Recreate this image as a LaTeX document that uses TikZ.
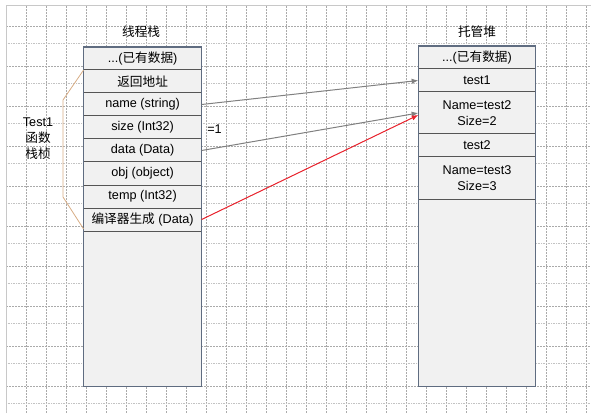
\documentclass[tikz,border=0pt]{standalone}
\usepackage{fontspec}
\setmainfont{Liberation Sans}
\newfontfamily\cjk{Noto Sans CJK SC}
\newcommand{\zh}[1]{{\cjk #1}}
\usetikzlibrary{
    positioning,
    arrows.meta
}
\definecolor{gridgray}{RGB}{170,170,170}
\definecolor{gridlight}{RGB}{195,195,195}
\definecolor{framegray}{RGB}{200,200,200}
\definecolor{cellfill}{RGB}{241,241,241}
\definecolor{colline}{RGB}{95,108,128}
\definecolor{rowline}{RGB}{85,85,85}
\definecolor{bracetan}{RGB}{215,172,132}
\definecolor{ptrgray}{RGB}{128,128,128}
\definecolor{ptrred}{RGB}{232,36,46}
\tikzset{
  txt/.style = {
      font=\fontsize{9.5}{12}\selectfont,
      inner sep=0pt
  },
  colbox/.style = {
      draw=colline,
      line width=0.9pt,
      fill=cellfill,
      inner sep=0pt,
      outer sep=0pt
  },
  cell/.style = {
      txt,
      draw=rowline,
      line width=0.75pt,
      fill=cellfill,
      align=center,
      outer sep=0pt
  },
  stackcell/.style = {
      cell,
      minimum width=88.5pt,
      minimum height=17.25pt
  },
  heapcell/.style = {
      cell,
      minimum width=88pt,
      minimum height=17.25pt
  },
  tallcell/.style = {
      heapcell,
      minimum height=31.5pt
  },
  gridv/.style = {
      draw=gridgray,
      line width=0.4pt,
      dash pattern=on 1.5pt off 0.75pt
  },
  gridh/.style = {
      draw=gridgray,
      line width=0.4pt,
      dash pattern=on 1.5pt off 0.75pt
  },
  gridd/.style = {
      draw=gridlight,
      line width=0.4pt,
      dash pattern=on 0.5pt off 0.75pt
  },
  brace/.style = {
      draw=bracetan,
      line width=0.6pt
  },
  ptr/.style = {
      draw=ptrgray,
      line width=0.75pt,
      -{Latex[length=5pt,width=4pt]}
  },
  redptr/.style = {
      ptr,
      draw=ptrred,
      fill=ptrred
  }
}

\begin{document}
\begin{tikzpicture}[x=0.75pt, y=-0.75pt]
    \useasboundingbox (0,0) rectangle (591,413);
    % Grid
    \foreach \x in {26,46,...,586}
        \draw[gridv] (\x,6) -- (\x,413);
    \foreach \y in {26,66,...,386}
        \draw[gridh] (6,\y) -- (591,\y);
    \foreach \y in {43,83,...,403}
        \draw[gridd] (6,\y) -- (591,\y);
    \draw[framegray, line width=0.75pt] (6,413) -- (6,6) -- (591,6);
    % Titles
    \node[txt] (stacktitle) at (141,32) {\zh{线程栈}};
    \node[txt] (heaptitle) at (477,32) {\zh{托管堆}};
    % Thread stack
    \node[colbox, minimum width=88.5pt, minimum height=254.6pt, anchor=north] (stack) at (142.6,47) {};
    \node[stackcell, anchor=north] (s0) at (stack.north) {...(\zh{已有数据})};
    \node[stackcell, below=0pt of s0] (s1) {\zh{返回地址}};
    \node[stackcell, below=0pt of s1] (s2) {name (string)};
    \node[stackcell, below=0pt of s2] (s3) {size (Int32)};
    \node[stackcell, below=0pt of s3] (s4) {data (Data)};
    \node[stackcell, below=0pt of s4] (s5) {obj (object)};
    \node[stackcell, below=0pt of s5] (s6) {temp (Int32)};
    \node[stackcell, below=0pt of s6] (s7) {\zh{编译器生成} (Data)};
    \draw[colline, line width=0.9pt] (stack.north west) rectangle (stack.south east);
    % Managed heap
    \node[colbox, minimum width=88pt, minimum height=255.4pt, anchor=north] (heap) at (477,46) {};
    \node[heapcell, anchor=north] (h0) at (heap.north) {...(\zh{已有数据})};
    \node[heapcell, below=0pt of h0] (h1) {test1};
    \node[tallcell, below=0pt of h1] (h2) {Name=test2\\Size=2};
    \node[heapcell, below=0pt of h2] (h3) {test2};
    \node[tallcell, below=0pt of h3] (h4) {Name=test3\\Size=3};
    \draw[colline, line width=0.9pt] (heap.north west) rectangle (heap.south east);
    % Frame label
    \node[txt, align=center] (frame) at (38,139) {Test1\\\zh{函数}\\\zh{栈桢}};
    \draw[brace] (s1.north west) -- (63,100) -- (63,197) -- ([yshift=1.5pt]s7.south west);
    \node[txt, anchor=west] (sizeval) at (207,129) {=1};
    % Edges
    \draw[ptr] (s2.east) -- (h1.west);
    \draw[ptr] (s4.east) -- (h2.west);
    \draw[redptr] (s7.east) -- ([yshift=-1.5pt]h2.west);
\end{tikzpicture}
\end{document}
